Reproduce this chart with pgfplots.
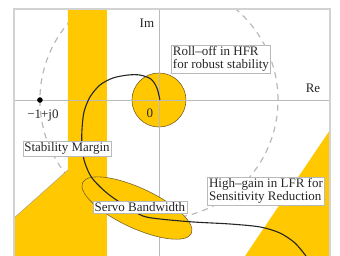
\documentclass[border=0pt]{standalone}
\usepackage{fontspec}
\setmainfont{Liberation Serif}
\usepackage{pgfplots}
\pgfplotsset{compat=1.18}
\usetikzlibrary{shapes.geometric}
\definecolor{amber}{RGB}{255,200,0}
\definecolor{edge}{RGB}{120,100,40}
\definecolor{gridc}{RGB}{190,185,180}
\begin{document}
\begin{tikzpicture}
\begin{axis}[
  scale only axis, width=316pt, height=247pt,
  xmin=-1.218, xmax=1.437, ymin=-1.311, ymax=0.765,
  axis line style={draw=none}, ticks=none,
]
% dashed unit circle
\draw[gray!55, dashed, dash pattern=on 6pt off 5pt, line width=1.2pt] (axis cs:0,0) circle [radius=1];
% yellow band with flare
\fill[amber] (axis cs:-0.765,0.765) -- (axis cs:-0.437,0.765) -- (axis cs:-0.437,-1.311)
   -- (axis cs:-1.218,-1.311) -- (axis cs:-1.218,-0.992) -- (axis cs:-0.765,-0.588) -- cycle;
\draw[edge!60, line width=0.5pt] (axis cs:-1.218,-0.992) -- (axis cs:-0.765,-0.588);
% lower right triangle
\fill[amber] (axis cs:1.437,-0.252) -- (axis cs:1.437,-1.311) -- (axis cs:0.723,-1.311) -- cycle;
% small circle
\node[circle, fill=amber, draw=edge, line width=0.6pt, minimum size=54pt, inner sep=0pt] at (axis cs:0,0) {};
% grid lines
\draw[gridc, line width=0.8pt] (axis cs:-1.218,0) -- (axis cs:1.437,0);
\draw[gridc, line width=0.8pt] (axis cs:0,0.765) -- (axis cs:0,-1.311);
% servo ellipse
\node[ellipse, fill=amber, draw=edge, line width=0.6pt, minimum width=120pt, minimum height=40pt, inner sep=0pt, rotate=-25] at (axis cs:-0.185,-0.908) {};
% Nyquist curve
\addplot[smooth, black!85, line width=1.1pt] coordinates {
(0.008,0) (-0.017,0.101) (-0.067,0.176) (-0.160,0.210) (-0.261,0.210)
(-0.387,0.185) (-0.496,0.126) (-0.580,0.025) (-0.630,-0.101) (-0.647,-0.252)
(-0.647,-0.403) (-0.622,-0.529) (-0.563,-0.655) (-0.437,-0.782) (-0.269,-0.899)
(-0.134,-0.975) (0.008,-1.000) (0.286,-1.025) (0.597,-1.042) (0.849,-1.067)
(1.017,-1.118) (1.143,-1.202) (1.235,-1.311)};
% -1 point
\addplot[only marks, mark=*, mark size=2.5pt, black] coordinates {(-1,0)};
% labels
\begin{scope}[every node/.style={font=\fontsize{13}{13.5}\selectfont, text=black!85}]
\node at (axis cs:-0.101,0.647) {Im};
\node at (axis cs:1.294,0.101) {Re};
\node at (axis cs:-0.076,-0.109) {0};
\node at (axis cs:-0.975,-0.134) {−1+j0};
\node[draw=gray!55, fill=white, inner sep=1.5pt, align=left] at (axis cs:0.521,0.345) {Roll–off in HFR\\for robust stability};
\node[draw=gray!55, fill=white, inner sep=1.5pt] at (axis cs:-0.773,-0.408) {Stability Margin};
\node[draw=gray!55, fill=white, inner sep=1.5pt] at (axis cs:-0.160,-0.903) {Servo Bandwidth};
\node[draw=gray!55, fill=white, inner sep=1.5pt, align=left] at (axis cs:0.899,-0.765) {High–gain in LFR for\\Sensitivity Reduction};
\end{scope}
\end{axis}
\draw[gray!35, line width=1.5pt] (current axis.south west) -- (current axis.north west) -- (current axis.north east) -- (current axis.south east);
\pgfresetboundingbox
\path ([xshift=-14pt]current axis.south west) rectangle ([xshift=10pt,yshift=9pt]current axis.north east);
\end{tikzpicture}
\end{document}
